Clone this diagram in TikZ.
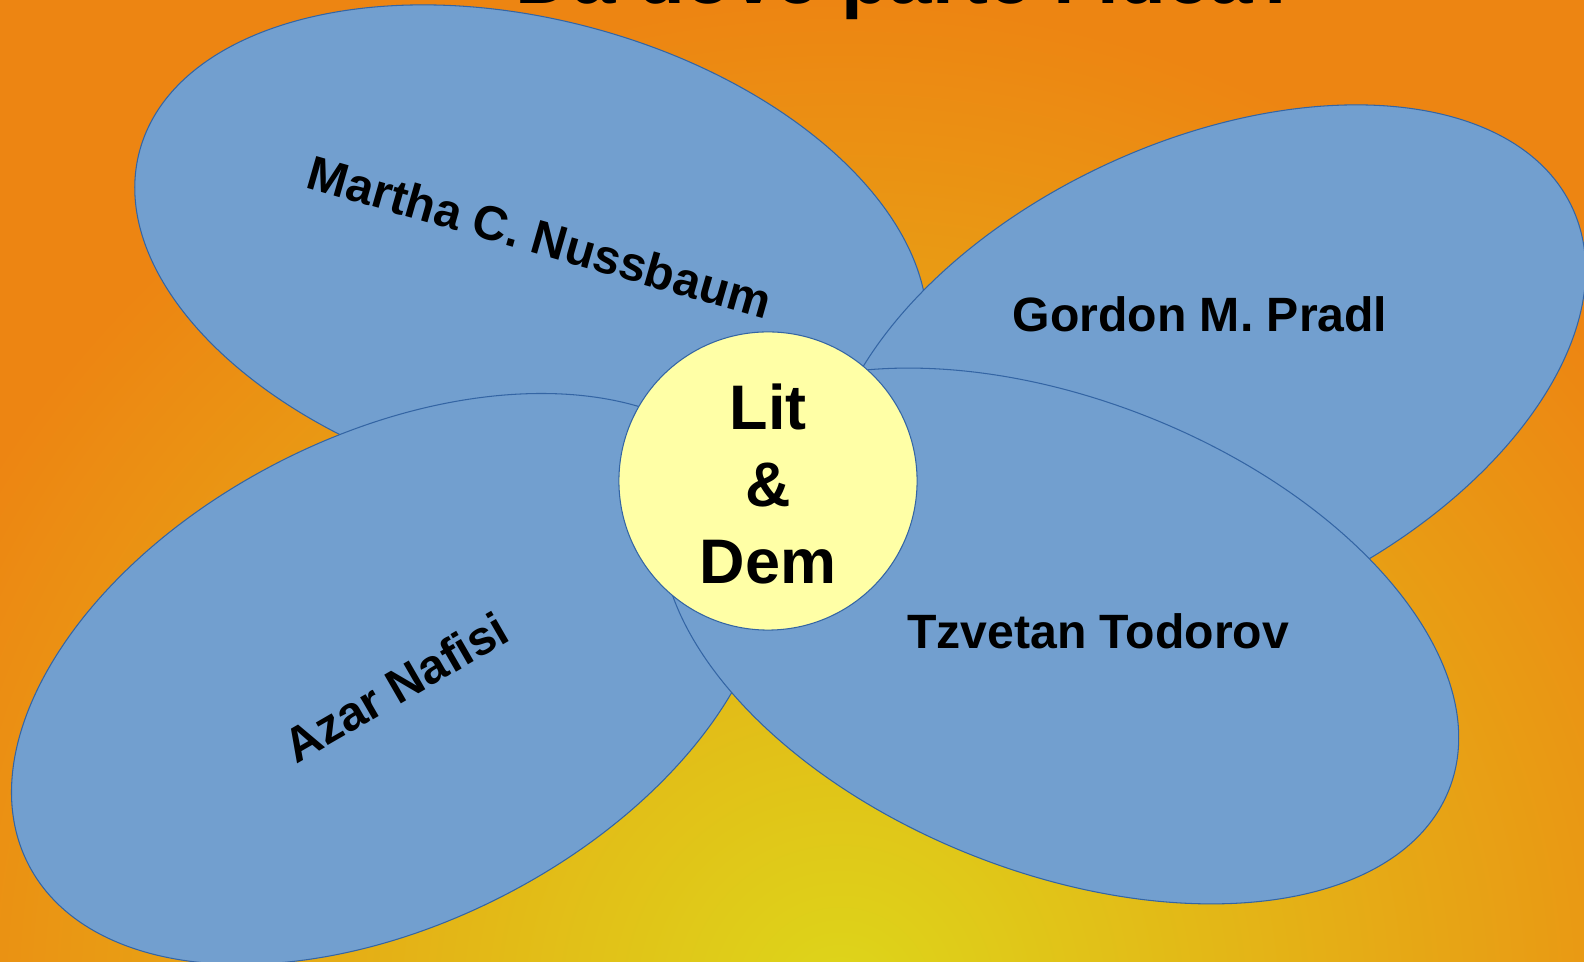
\documentclass[tikz,border=0pt]{standalone}
\usepackage		 {fontspec}
\setmainfont{Liberation Sans}
\usepackage		 {xcolor   }
\usepackage		 {tikz	  }
\usetikzlibrary{shapes,calc,positioning}

\definecolor{bgorange}{HTML}{ED8512}
\definecolor{bgyellow}{HTML}{DDD61A}
\definecolor{petalblue}{HTML}{729FCF}
\definecolor{petalline}{HTML}{3465A4}
\definecolor{heart}{HTML}{FFFFA6}

\begin{document}
\begin{tikzpicture}[x=0.01cm,y=-0.01cm]
  \tikzset{ petal/.style={ellipse,draw=petalline,fill=petalblue,line width=0.3pt,inner sep=0pt},
    lbl/.style={font=\fontsize{13.7pt}{16pt}\selectfont\bfseries,inner sep=0pt},
  }
  \useasboundingbox (0,0) rectangle (1584,962);
  \fill[bgorange] (0,0) rectangle (1584,962);
  \begin{scope}
    \clip (0,0) rectangle (1584,962);
    \shade[inner color=bgyellow,outer color=bgorange] (840,1000) circle (1000);
  \end{scope}
  \node[anchor=base west,inner sep=0pt,font=\fontsize{22.2pt}{26pt}\selectfont\bfseries] (title) at (515,4) {Da dove parte l'idea?};

  \node[petal,rotate=-15,minimum width=8.10cm,minimum height=4.72cm] (martha) at (531,256) {};
  \node[petal,rotate=25,minimum width=8.10cm,minimum height=4.72cm] (gordon) at (1205,379) {};
  \node[petal,rotate=27,minimum width=8.14cm,minimum height=4.88cm] (azar) at (391,679) {};
  \node[petal,rotate=-21.5,minimum width=8.36cm,minimum height=4.72cm] (tzvetan) at (1060,636) {};
  \node[circle,draw=petalline,fill=heart,line width=0.3pt,minimum size=2.98cm,inner sep=0pt] (lit) at (768,481) {};

  \node[lbl,rotate=-16] (martha label) at (540,237) {Martha C. Nussbaum};
  \node[lbl] (gordon label) at (1200,314) {Gordon M. Pradl};
  \node[lbl,rotate=30] (azar label) at (396,687) {Azar Nafisi};
  \node[lbl] (tzvetan label) at (1098,631) {Tzvetan Todorov};
  \node[align=center,inner sep=0pt,font=\fontsize{17.9pt}{21.9pt}\selectfont\bfseries] (lit label) at (768,484) {Lit\\\&\\Dem};
\end{tikzpicture}
\end{document}
